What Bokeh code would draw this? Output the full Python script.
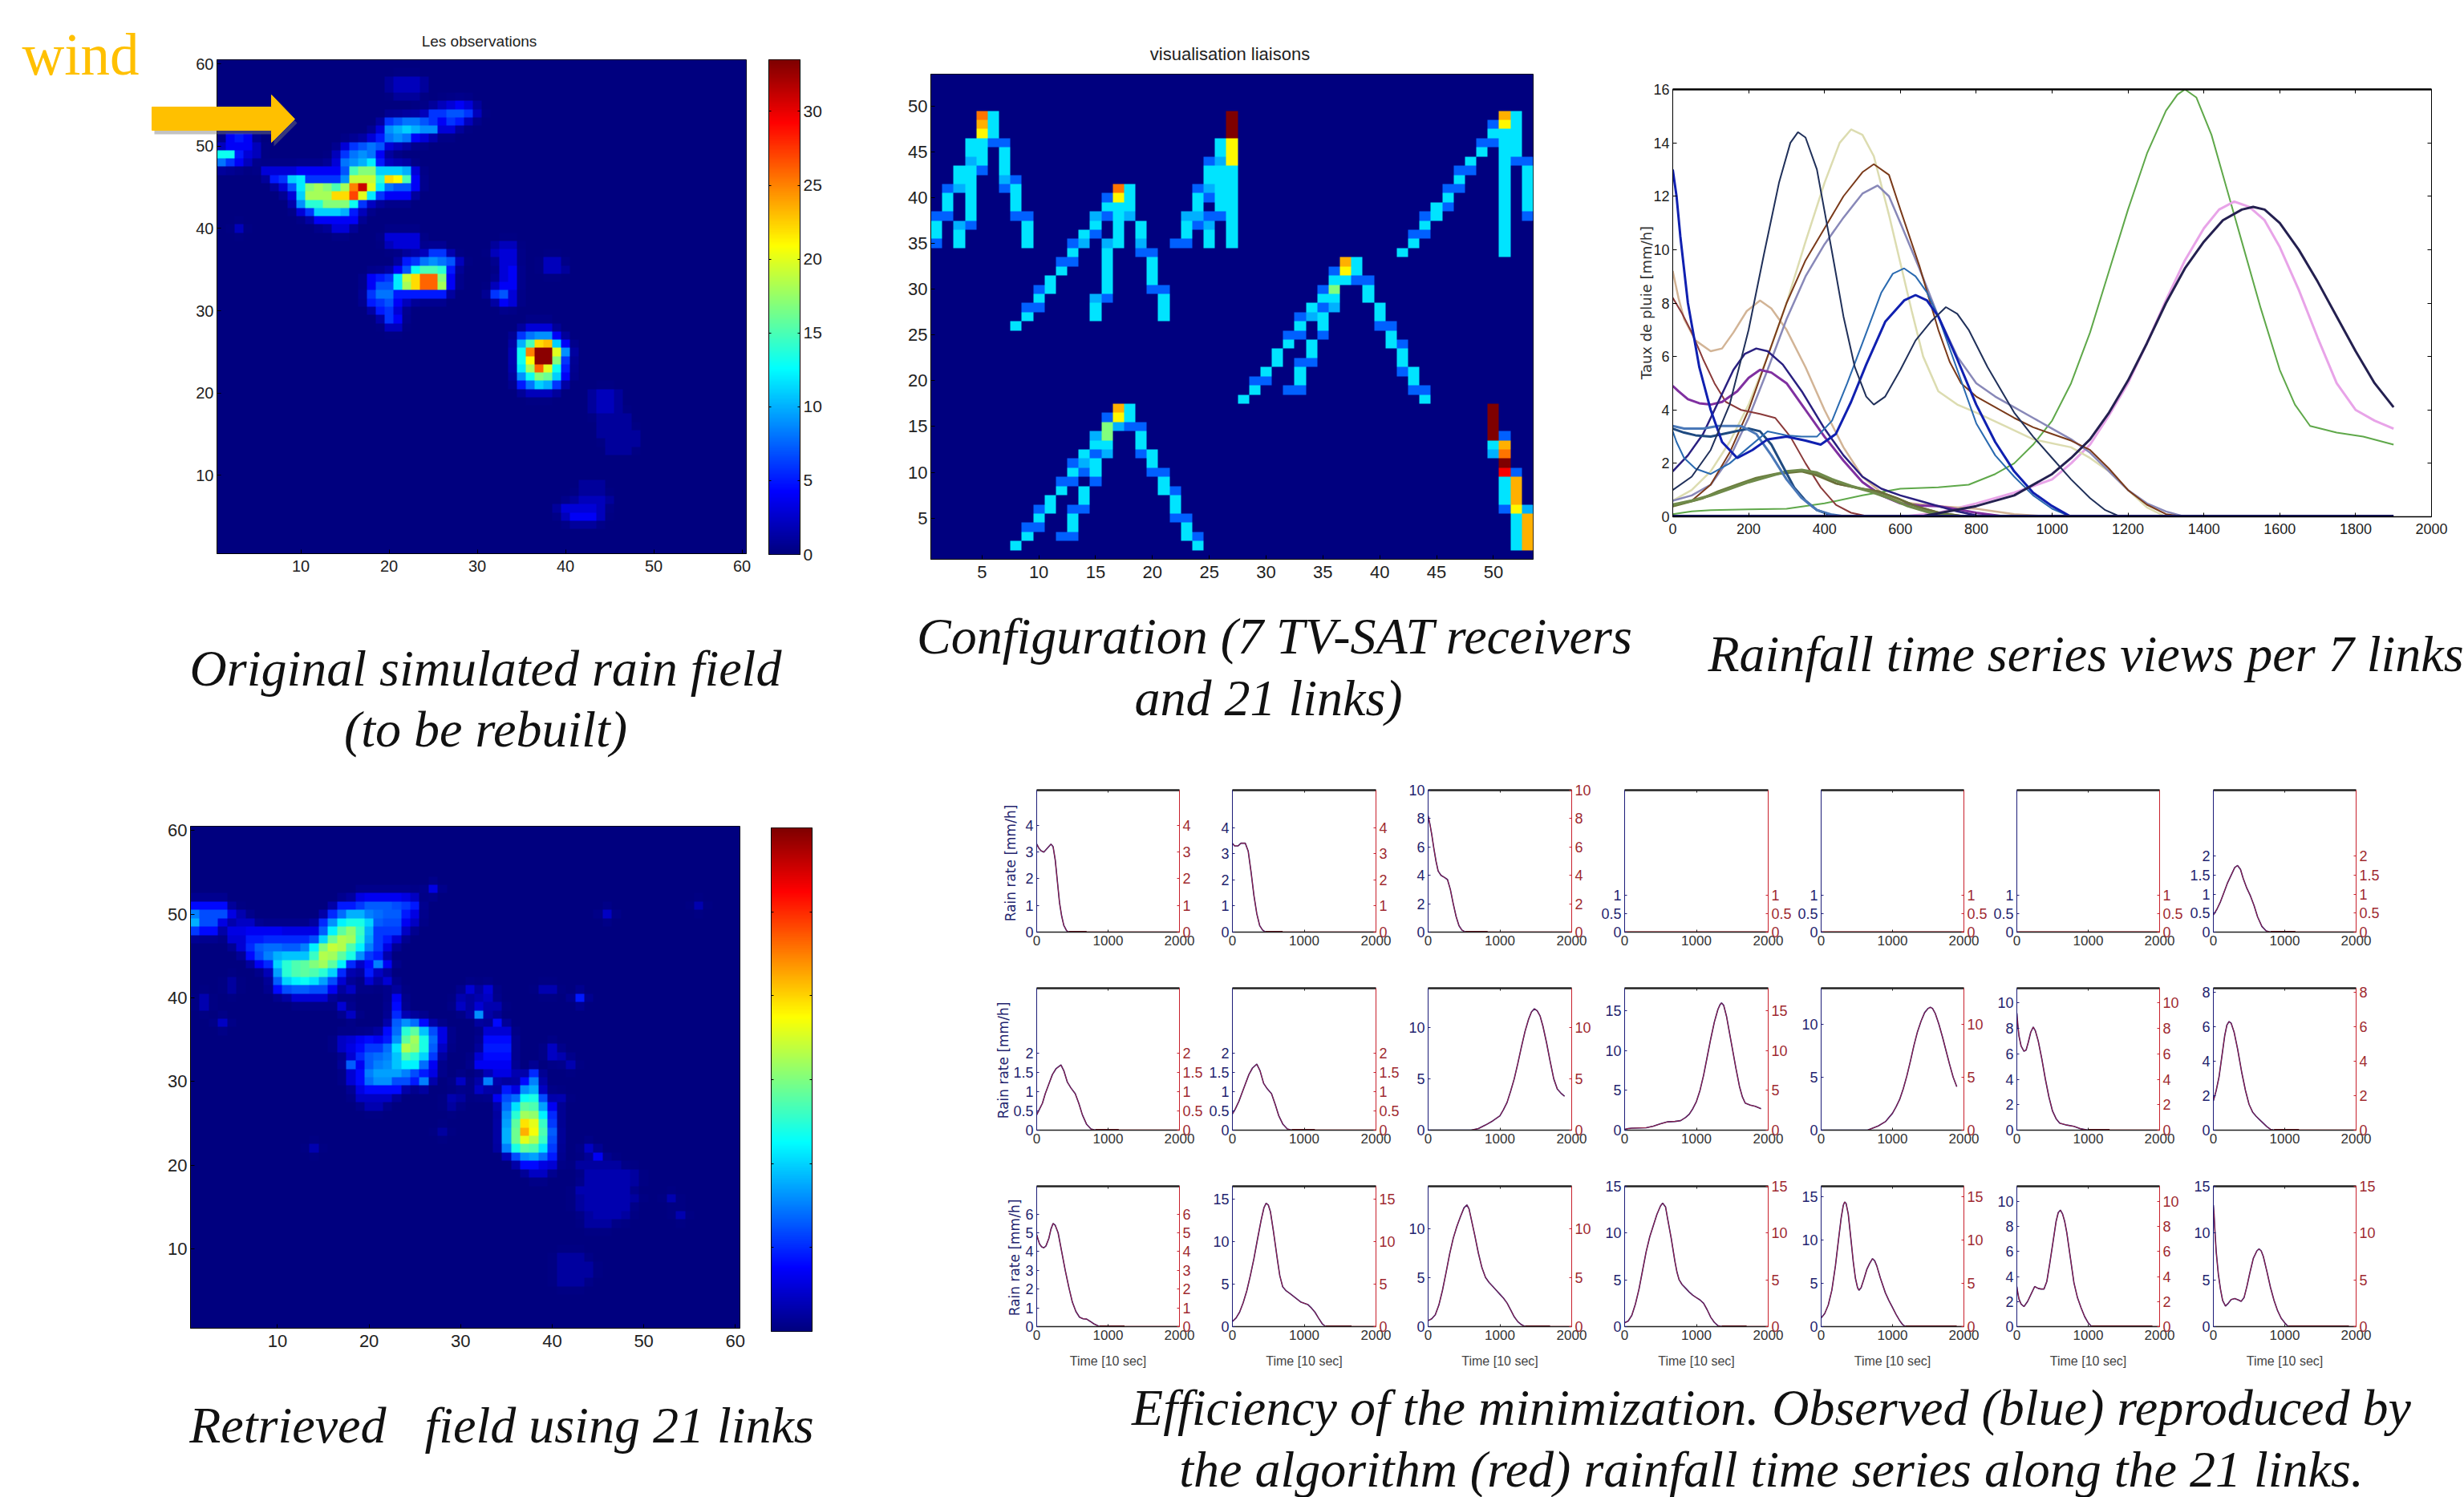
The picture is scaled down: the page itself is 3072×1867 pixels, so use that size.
import numpy as np
from bokeh.embed import file_html
from bokeh.resources import INLINE
from bokeh.plotting import figure
from bokeh.layouts import column
from bokeh.models import Range1d, LinearAxis, FixedTicker, LinearColorMapper, CustomLabelingPolicy
from bokeh.core.properties import value

# ---------- rain field "Les observations": (y, first x, values) ----------
obs_rows = [
 (58,20,[1,2,2,2,1]),(57,20,[1,2,2,2,1]),(56,21,[1,1,1]),
 (55,25,[1,2,3,4,3,1]),(54,23,[1,2,6,6,7,7,6,2]),(53,20,[6,7,8,8,7,6,4,6,5,2]),
 (52,19,[3,9,10,11,10,9,9,3,3]),(51,2,[4,5,4]),(51,18,[3,5,8,9,8,4,3]),
 (50,2,[4,4,4,2]),(50,15,[3,6,7,8,7,3,2]),(49,1,[13,13,5,3,2]),(49,14,[2,6,8,9,8,4,1]),
 (48,1,[8,6,4,2]),(48,14,[3,8,9,10,12,5,2]),
 (47,6,[3,3,3,3,4,4,4,4,4,7,15,17,17,11,11,11,10,3]),
 (46,7,[5,6,11,12,6,6,6,6,9,19,19,19,14,22,21,15,4]),
 (45,8,[3,7,12,17,18,17,15,18,25,31,20,12,8,7,7,4]),
 (44,9,[3,11,18,18,18,22,22,27,20,12,6,4,4,4]),
 (43,10,[9,14,14,17,17,17,13,6,2]),(42,10,[3,6,11,11,11,10,5,2]),
 (41,12,[4,4,4,4,4]),(40,3,[2]),(40,14,[3,3]),
 (39,20,[3,3,3,3]),(38,20,[2,3,3,3]),(38,32,[1,2,2]),
 (37,24,[2,6,6]),(37,32,[2,3,3]),(36,22,[5,6,8,9,8,7,2]),(36,33,[3,3]),(36,38,[2,2]),
 (35,21,[4,7,13,15,15,14,5]),(35,33,[3,4]),(35,38,[2,2,1]),
 (34,18,[4,5,6,12,19,22,26,26,17,4]),(34,33,[3,4]),
 (33,18,[4,7,7,12,18,22,26,26,18,4]),(33,32,[2,4,4]),
 (32,18,[6,8,8,5,5,5,5,5,5]),(32,32,[6,7,3]),(31,18,[5,6,7,4,2]),(31,33,[4,3]),
 (30,19,[5,6,3]),(29,20,[6,4]),(28,20,[2,2]),(28,36,[3,3,3]),
 (27,35,[6,8,9,9,4]),(26,35,[10,15,22,23,11,4]),(25,35,[13,25,33,33,20,9]),
 (24,35,[13,21,33,33,17,6]),(23,35,[12,18,26,20,13,5]),(22,35,[9,13,17,16,11,4]),
 (21,35,[5,8,11,10,6]),(20,36,[2,2,2]),(20,43,[1,2,2,1]),(19,43,[1,2,2,1]),
 (18,43,[1,2,2,1]),(17,44,[1,1,1,1]),(16,44,[1,1,1,1]),(15,44,[1,1,1,1,1]),
 (14,45,[1,1,1,1]),(13,45,[1,1,1]),(9,42,[1,1,1]),(8,42,[1,1,1]),
 (7,41,[1,2,2,2,1]),(6,39,[1,3,3,3,3,2]),(5,40,[2,4,4,4,2]),(4,41,[1,1,1]),
]

# ---------- rain field retrieved: (y, first x, values) ----------
ret_rows = [
 (53,27,[6]),(52,19,[6,7,7,7,7,6,4]),
 (51,1,[8,8,8,8]),(51,17,[9,9,11,13,13,13,12,11,9]),(51,56,[3]),
 (50,1,[15,12,12,12,6,3]),(50,16,[10,14,18,18,15,14,13,13,9,6]),(50,46,[4]),
 (49,1,[18,12,12,6]),(49,6,[4,4]),(49,15,[10,16,22,24,24,20,13,12,12,7,4]),
 (48,1,[11,8,8]),(48,5,[6,6,7,7,7,7,6,6,6,6,13,22,28,31,26,18,11,11,11,4]),
 (47,5,[5,5,9,9,10,10,10,10,10,12,20,29,33,32,25,17,11,9,5]),
 (46,6,[5,10,13,14,14,13,13,15,22,30,34,33,27,22,15,11,6]),
 (45,7,[8,12,15,18,19,19,19,26,33,32,28,24,16,11,9]),
 (44,8,[7,10,20,25,27,28,30,32,28,22,10,4,8,15,7]),
 (43,10,[17,25,27,28,27,25,20,10,3]),(43,20,[9,4]),
 (42,5,[2]),(42,10,[13,20,22,23,21,17,12,5]),(42,20,[5,2,5]),
 (41,5,[2]),(41,10,[8,12,13,13,12,12,7]),(41,18,[4]),(41,23,[2]),(41,31,[5,2,5]),(41,39,[3,3]),
 (40,2,[3]),(40,12,[5,5,5,5]),(40,23,[7]),(40,30,[3,2,3,4]),(40,43,[9]),
 (39,2,[3]),(39,17,[5]),(39,23,[8]),(39,30,[4,2,5,3,3]),
 (38,18,[4]),(38,23,[10]),(38,32,[16]),(37,4,[4]),(37,23,[13,16,14,8]),(37,34,[8]),
 (36,22,[8,14,25,28,19,12,6]),(36,33,[5,5,5]),
 (35,17,[4,5,7,8,7,9,16,28,32,24,14,6]),(35,33,[8,8,8]),
 (34,17,[4,6,8,11,11,14,21,33,31,24,13,4]),(34,33,[9,9,9]),(34,40,[4]),
 (33,18,[5,10,13,14,15,19,27,25,20,11]),(33,32,[5,8,8,8]),(33,40,[4,3]),
 (32,18,[13,7,13,15,16,19,22,22,14,7]),(32,32,[7,7,7,7]),(32,42,[3]),
 (31,18,[5,8,15,17,17,17,15,12,9,6]),(31,34,[6,6,3]),(31,38,[10]),
 (30,18,[5,8,14,16,16,12,12,9,15]),(30,33,[15]),(30,37,[8,15]),(30,30,[4]),
 (29,19,[6,8,8,8,8]),(29,32,[4]),(29,35,[9,6,16,18,4]),
 (28,19,[4,4,4,4]),(28,29,[3,2]),(28,34,[7,12,14,23,24,12]),(28,41,[3]),
 (27,20,[3,3]),(27,29,[2]),(27,35,[14,21,28,27,17,7]),(26,35,[16,25,32,31,22,10]),
 (25,35,[17,28,39,36,26,11]),(24,35,[18,29,42,37,27,13]),(24,28,[2]),
 (23,35,[18,29,36,33,26,12]),(22,14,[3]),(22,35,[15,24,28,27,21,11]),(22,44,[4]),
 (21,36,[12,16,17,14,9]),(21,45,[7]),(20,37,[8,8,6,5]),(20,43,[2,2,2,2,2]),
 (19,38,[4,4]),(19,44,[3,3,3,3,3,2]),(18,44,[3,3,3,3,3,2]),(17,43,[3,3,3,3,3,3]),
 (16,43,[2,3,3,3,3,3,2]),(16,53,[3]),(15,43,[2,3,3,3,3,3]),(14,44,[2,3,3,3,2]),(14,54,[3]),
 (13,44,[2,2,2]),(9,41,[2,2,2]),(8,41,[2,2,2,2]),(7,41,[2,2,2,2]),(6,41,[2,2,2]),
]

# ---------- link configuration: (x, top y, codes going down) ----------
# b blue, t blue-cyan, c cyan, g green, y yellow, a amber, o orange, r red, d dark red
link_runs = [
 (1,38,"bccb"),(2,41,"bccb"),(3,43,"cct"),(3,37,"tcc"),(4,46,"cctccccccb"),(5,49,"oay"),(5,46,"cccb"),
 (6,49,"cccb"),(7,46,"bccctb"),(8,42,"bcccb"),(9,38,"bccc"),
 (8,26,"c"),(9,28,"bc"),(10,30,"bcb"),(11,31,"cc"),(12,33,"bc"),(13,35,"bcb"),(14,36,"ct"),(15,38,"tcb"),
 (15,29,"tcc"),(16,40,"bcb"),(16,35,"tcccc"),(16,30,"c"),(16,29,"b"),(17,41,"oyccccc"),(18,41,"ccct"),
 (19,37,"cctb"),(20,34,"bcccb"),(21,30,"bccc"),
 (22,35,"b"),(23,38,"tccb"),(24,41,"bcctb"),(25,44,"bcctb"),(25,38,"btcc"),(26,46,"cctcccccb"),
 (27,49,"dddyyyccccccccc"),
 (42,34,"c"),(43,36,"bc"),(44,38,"bcb"),(45,39,"cc"),(46,41,"bc"),(46,39,"b"),(47,43,"bcb"),(48,44,"cb"),
 (49,46,"bc"),(50,48,"bcb"),(51,49,"aycccccccccccccc"),(52,49,"cccccb"),(53,44,"bcccccb"),
 (28,18,"c"),(29,20,"bc"),(30,21,"cb"),(31,23,"cc"),(32,25,"bc"),(33,27,"bcb"),(33,22,"bccb"),(32,19,"b"),
 (34,28,"ct"),(34,24,"ccb"),(35,30,"bcbccb"),(36,32,"bcgct"),(37,33,"ayc"),(38,33,"ccb"),(39,31,"bcc"),
 (40,28,"ccb"),(41,26,"bcc"),(42,24,"bccb"),(43,21,"ccb"),(44,19,"bc"),
 (8,2,"c"),(9,4,"bc"),(10,6,"bcb"),(11,7,"cc"),(12,9,"bc"),(13,11,"bcb"),(13,6,"bcc"),(12,3,"b"),(13,3,"b"),
 (14,12,"ctb"),(14,8,"cc"),(14,6,"b"),(15,14,"tcbccb"),(16,16,"bggct"),(17,17,"ayt"),(18,17,"ccb"),
 (19,15,"bccb"),(20,12,"ccb"),(21,10,"bcc"),(22,8,"bccb"),(23,5,"bcc"),(24,3,"bc"),
 (50,17,"ddddct"),(51,14,"baodrcccb"),(52,10,"b"),(52,9,"aaay"),(52,5,"cccc"),(53,6,"t"),(53,5,"aaaa"),
]
link_levels = {"b":0.22,"t":0.30,"c":0.35,"g":0.50,"y":0.63,"a":0.70,"o":0.76,"r":0.88,"d":1.0}

# ---------- rainfall curves (time, rate) ----------
a_x=[0,30,60,100,150,200,230,260,290,320,350,380,420,450]
a_y=[3.3,3.15,3.05,3.0,3.15,3.3,3.2,2.7,1.9,1.1,.6,.25,.05,0]
b_x=[0,30,80,120,180,220,260,300,340,380,420,460]
b_y=[3.4,3.3,3.3,3.4,3.4,3.1,2.3,1.4,.7,.25,.08,0]
c_x=[0,25,50,80,110,140,180,230,270,310,350,390,430,470,520]
c_y=[8.2,7.6,6.9,5.9,5.0,4.3,4.0,3.85,3.7,3.0,2.0,1.1,.45,.15,0]
d_x=[0,50,100,150,200,250,300,340,380,420,470,520,570,620,680,740,800]
d_y=[.45,.6,.8,1.05,1.3,1.5,1.7,1.75,1.65,1.4,1.15,.95,.7,.4,.15,.03,0]
e_x=[0,40,80,120,170,220,270,340,380,430,480,540,590,640,700,760,820]
e_y=[.4,.55,.7,.95,1.2,1.45,1.6,1.7,1.55,1.25,1.1,.95,.7,.4,.15,.03,0]
f_x=[0,40,90,130,180,230,280,340,385,435,485,545,595,645,705,765,825]
f_y=[.42,.55,.75,.95,1.2,1.45,1.62,1.72,1.55,1.22,1.08,.95,.68,.38,.15,.03,0]
g_x=[0,600,700,800,900,1000,1050,1100,1150,1200,1250,1300,1350,1400,1440,1480,1520,1560,1600,1650,1700,1750,1800,1850,1900]
g_y=[0,0,.15,.5,.9,1.4,2.0,2.7,3.8,5.0,6.5,8.1,9.6,10.8,11.5,11.8,11.6,11.1,10.1,8.5,6.7,5.0,4.0,3.6,3.3]
h_x=[0,50,100,200,300,400,500,600,700,780,850,900,950,1000,1050,1100,1150,1200,1250,1300,1330,1350,1380,1420,1460,1500,1550,1600,1640,1680,1750,1820,1900]
h_y=[.1,.2,.25,.28,.3,.5,.8,1.05,1.1,1.2,1.6,2.0,2.7,3.6,5.0,6.9,9.2,11.5,13.6,15.2,15.8,16,15.7,14.3,12.3,10.3,7.8,5.5,4.2,3.4,3.15,3.0,2.7]
i_x=[0,650,800,900,1000,1050,1100,1150,1200,1250,1300,1350,1400,1450,1500,1530,1560,1600,1650,1700,1750,1800,1850,1900]
i_y=[0,0,.4,.8,1.6,2.2,2.9,3.9,5.1,6.5,8.0,9.3,10.3,11.1,11.5,11.6,11.5,11.0,10.0,8.8,7.5,6.2,5.0,4.1]
j_x=[0,15,30,60,100,130,160,195,230,260,300,350,400,450,500,550,600,700,800,900,1000]
j_y=[9.2,8.2,7.4,6.6,6.2,6.3,6.9,7.7,8.1,7.8,7.0,5.6,4.0,2.6,1.5,.9,.55,.4,.3,.1,0]
k_x=[0,40,80,120,160,190,220,250,290,340,400,450,500,550,600,650,700,750,800,850]
k_y=[1.7,2.3,3.1,4.3,5.5,6.1,6.3,6.2,5.7,4.7,3.3,2.3,1.5,1.05,.8,.6,.4,.2,.05,0]
l_x=[0,15,40,70,100,130,170,200,230,260,300,350,400,450,500,550,600,650,700,750,800,880]
l_y=[4.9,4.7,4.4,4.25,4.2,4.3,4.7,5.2,5.5,5.4,5.0,4.0,3.0,2.1,1.3,.8,.5,.42,.4,.28,.15,0]
m_x=[0,50,100,150,200,250,300,350,400,440,470,500,530,570,600,630,660,700,750,800,875,950,1050,1100,1150,1200,1250,1300]
m_y=[.6,1.0,1.7,2.8,4.2,6.0,8.0,10.3,12.5,14.0,14.5,14.3,13.5,11.3,9.5,7.7,6.0,4.7,4.2,3.9,3.4,2.9,2.6,2.2,1.7,1.0,.35,0]
n_x=[0,50,100,150,200,250,300,350,400,450,500,540,570,600,650,700,750,800,850,900,950,1000,1050,1100,1150,1200,1250,1300,1350]
n_y=[.6,.8,1.2,2.2,3.7,5.5,7.4,9.0,10.2,11.2,12.1,12.4,12.0,11.0,9.3,7.5,6.0,5.0,4.5,4.1,3.7,3.3,2.9,2.4,1.7,1.0,.5,.2,0]
o_x=[0,50,100,150,200,250,300,350,400,450,500,530,570,600,650,700,730,760,800,850,900,950,1000,1050,1100,1150,1200,1250,1300,1350]
o_y=[.4,.6,1.2,2.4,4.0,6.0,8.0,9.6,10.8,12.0,12.9,13.2,12.8,11.5,9.4,7.0,5.8,5.0,4.5,4.1,3.7,3.35,3.1,2.85,2.5,1.8,1.0,.45,.1,0]
p_x=[0,50,100,150,200,240,280,310,330,350,380,420,450,480,510,530,560,600,640,680,720,750,780,830,900,950,1000,1050,1100,1140,1180]
p_y=[1.0,1.5,2.5,4.2,7.0,9.8,12.5,14.0,14.4,14.2,13.0,9.9,7.5,5.6,4.5,4.2,4.5,5.5,6.6,7.3,7.85,7.6,7.0,5.6,3.9,3.0,2.2,1.4,.7,.25,0]
q_x=[0,10,30,60,100,150,200,250,300,340,380,420,460,500,550,580,610,640,670,700,750,800,850,900,950,1000,1050]
q_y=[3.2,2.8,2.2,1.8,1.6,2.0,2.6,3.2,3.05,3.0,3.0,3.6,5.0,6.5,8.4,9.1,9.3,9.0,8.4,7.5,5.5,3.5,2.3,1.5,.8,.3,0]
r_x=[0,10,20,40,70,100,130,170,210,250,300,350,390,430,470,510,560,610,640,670,700,750,800,850,900,950,1000,1050]
r_y=[13,12,10.5,8,5.6,4,2.8,2.2,2.5,2.9,3.0,2.85,2.7,3.1,4.3,5.7,7.3,8.1,8.3,8.1,7.5,5.9,4.2,2.8,1.7,.9,.4,0]

curves = {"a":(a_x,a_y),"b":(b_x,b_y),"c":(c_x,c_y),"d":(d_x,d_y),"e":(e_x,e_y),"f":(f_x,f_y),
          "g":(g_x,g_y),"h":(h_x,h_y),"i":(i_x,i_y),"j":(j_x,j_y),"k":(k_x,k_y),"l":(l_x,l_y),
          "m":(m_x,m_y),"n":(n_x,n_y),"o":(o_x,o_y),"p":(p_x,p_y),"q":(q_x,q_y),"r":(r_x,r_y)}
big_colors = {"a":"#1f4a80","b":"#4a78b8","c":"#8a3a3a","d":"#6f8a4a","e":"#6a7a3a","f":"#6b6b3a",
              "g":"#e8a4e8","h":"#5fa84a","i":"#242050","j":"#d2b496","k":"#2a2080","l":"#8030a0",
              "m":"#dcdcb0","n":"#8888b8","o":"#7a3a1a","p":"#20305a","q":"#2a6ab0","r":"#1020b0"}
big_widths = {"a":3,"b":3,"c":2,"d":3.5,"e":3,"f":2,"g":3,"h":2,"i":3,"j":2.5,"k":2.5,"l":3,
              "m":2.5,"n":2.5,"o":2,"p":2,"q":2,"r":3}
big_order = ["h","g","m","j","n","o","c","l","k","e","f","d","a","b","q","r","p","i"]

panel_curves = [["a","b","c",None,None,None,"d"],
                ["e","f","g","h","i","j","k"],
                ["l","m","n","o","p","q","r"]]
panel_ymax = [[5.32,5.43,10,3.88,3.88,3.88,3.73],
              [3.7,3.7,13.8,17.85,13.4,11.15,8.23],
              [7.48,16.5,14.3,15,16.2,11.2,15]]
panel_ticks = [[[0,1,2,3,4],[0,1,2,3,4],[0,2,4,6,8,10],[0,.5,1],[0,.5,1],[0,.5,1],[0,.5,1,1.5,2]],
               [[0,.5,1,1.5,2],[0,.5,1,1.5,2],[0,5,10],[0,5,10,15],[0,5,10],[0,2,4,6,8,10],[0,2,4,6,8]],
               [[0,1,2,3,4,5,6],[0,5,10,15],[0,5,10],[0,5,10,15],[0,5,10,15],[0,2,4,6,8,10],[0,5,10,15]]]
panel_dark_end = [[700,700,830,0,0,0,1150],[1150,1150,470,470,600,1300,1200],[1230,1660,1700,1700,1900,1900,1900]]
time_ticks = [0,1000,2000]

big_x_ticks = [0,200,400,600,800,1000,1200,1400,1600,1800,2000]
big_y_ticks = [0,2,4,6,8,10,12,14,16]
obs_bar_ticks = [0,5,10,15,20,25,30]
ret_bar_ticks = [10,20,30,40,50]

captions = [
 ("wind",100,68,73,"#FFC000","normal"),
 ("Original simulated rain field",605,833,64,"#111111","italic"),
 ("(to be rebuilt)",605,909,64,"#111111","italic"),
 ("Configuration (7 TV-SAT receivers",1589,793,64,"#111111","italic"),
 ("and 21 links)",1581,870,64,"#111111","italic"),
 ("Rainfall time series views per 7 links",2600,815,64,"#111111","italic"),
 ("Retrieved \u00a0 field using 21 links",625,1777,64,"#111111","italic"),
 ("Efficiency of the minimization. Observed (blue) reproduced by",2208,1755,64,"#111111","italic"),
 ("the algorithm (red) rainfall time series along the 21 links.",2208,1832,64,"#111111","italic"),
]

# ---------- helpers ----------
PAGE_W, PAGE_H = 3072, 1867
SANS = "Liberation Sans"

def jet(n=256):
    out = []
    for t in np.linspace(0, 1, n):
        r = np.clip(min(4*t-1.5, -4*t+4.5), 0, 1)
        g = np.clip(min(4*t-0.5, -4*t+3.5), 0, 1)
        b = np.clip(min(4*t+0.5, -4*t+2.5), 0, 1)
        out.append("#%02x%02x%02x" % (int(r*255), int(g*255), int(b*255)))
    return out
JET = jet()

def make_fig(fx0, fy0, fx1, fy1, xr, yr, L=60, R=60, T=40, B=44):
    p = figure(width=int(fx1-fx0)+L+R, height=int(fy1-fy0)+T+B,
               x_range=Range1d(*xr), y_range=Range1d(*yr),
               x_axis_type=None, y_axis_type=None, toolbar_location=None,
               output_backend="svg", min_border_left=L, min_border_right=R,
               min_border_top=T, min_border_bottom=B, frame_align=False,
               border_fill_color=None, background_fill_color=None, outline_line_color=None)
    p.grid.visible = False
    p.styles = {"position":"absolute","left":f"{int(fx0)-L}px","top":f"{int(fy0)-T}px"}
    return p

def axis(ticks, side_color="#000000", label_color="#222222", size=18, labels=True,
         line=1, y_range_name=None, tick_in=5, standoff=4):
    kw = {}
    if y_range_name: kw["y_range_name"] = y_range_name
    ax = LinearAxis(ticker=FixedTicker(ticks=ticks), axis_line_color=side_color, axis_line_width=line,
                    major_tick_line_color=side_color, major_tick_in=tick_in, major_tick_out=0,
                    minor_tick_line_color=None, major_label_text_color=label_color,
                    major_label_text_font=SANS, major_label_text_font_size=f"{size}px",
                    major_label_standoff=standoff, **kw)
    if not labels:
        ax.major_label_policy = CustomLabelingPolicy(
            code="try { for (let i = 0; i < indices.size; i++) indices.unset(i); } catch (e) {} return indices")
    return ax

def halo(g):
    # the reference is a soft JPEG: faint glow round each bright cell
    pad = np.pad(g, 1)
    mean = (pad[:-2,1:-1]+pad[2:,1:-1]+pad[1:-1,:-2]+pad[1:-1,2:])/4
    return np.maximum(g, 0.5*mean)

def grid_from_rows(rows, n):
    g = np.zeros((n, n))
    for y, x0, vals in rows:
        for k, v in enumerate(vals):
            if x0+k <= n:
                g[y-1, x0-1+k] = max(g[y-1, x0-1+k], v)
    return halo(g)

def grid_from_runs(runs, n):
    g = np.zeros((n, n))
    for x, top, codes in runs:
        for k, ch in enumerate(codes):
            g[top-1-k, x-1] = max(g[top-1-k, x-1], link_levels[ch])
    return g

def heat(arr, box, n, vmax, ticks, size):
    p = make_fig(*box, (0.5, n+0.5), (0.5, n+0.5))
    mapper = LinearColorMapper(palette=JET, low=0, high=vmax)
    p.image(image=[arr], x=0.5, y=0.5, dw=n, dh=n, color_mapper=mapper)
    p.outline_line_color = "#000000"
    p.add_layout(axis(ticks, size=size, standoff=8), "below")
    p.add_layout(axis(ticks, size=size), "left")
    return p

def colorbar(box, vmax, ticks, labels):
    p = make_fig(*box, (0, 1), (0, vmax), L=40, R=60)
    mapper = LinearColorMapper(palette=JET, low=0, high=vmax)
    p.image(image=[np.linspace(0, vmax, 256).reshape(256, 1)], x=0, y=0, dw=1, dh=vmax, color_mapper=mapper)
    p.outline_line_color = "#000000"
    p.add_layout(axis(ticks, labels=labels, size=21, tick_in=3), "right")
    p.add_layout(axis(ticks, labels=False, tick_in=3), "left")
    return p

figs = []

figs.append(heat(grid_from_rows(obs_rows, 60), (270,74,930,690), 60, 33.5, [10,20,30,40,50,60], 20))
figs.append(colorbar((958,74,997,691), 33.5, obs_bar_ticks, True))
figs.append(heat(grid_from_runs(link_runs, 53), (1160,92,1911,697), 53, 1.0, [5,10,15,20,25,30,35,40,45,50], 22))
figs.append(heat(grid_from_rows(ret_rows, 60), (237,1030,922,1656), 60, 60, [10,20,30,40,50,60], 22))
figs.append(colorbar((961,1032,1012,1660), 60, ret_bar_ticks, False))

# Panel C
pc = make_fig(2085,111,3031,644,(0,2000),(0,16))
for key in big_order:
    xs, ys = curves[key]
    pc.line(list(xs), list(ys), line_color=big_colors[key], line_width=big_widths[key])
pc.line([0,1900],[0,0],line_color="#14145a",line_width=5)
pc.add_layout(axis(big_x_ticks,size=18,line=1.5,standoff=8),"below")
pc.add_layout(axis(big_y_ticks,size=18),"left")
pc.add_layout(axis(big_x_ticks,labels=False,line=2.5),"above")
pc.add_layout(axis(big_y_ticks,labels=False),"right")
figs.append(pc)

# Small multiples
col_x = [(1292,1470),(1536,1715),(1780,1959),(2025,2204),(2270,2448),(2514,2692),(2759,2937)]
row_y = [(985,1162),(1232,1409),(1479,1654)]
NAVY, RED = "#1c1c78", "#c8202c"
for r, (y0, y1) in enumerate(row_y):
    for c, (x0, x1) in enumerate(col_x):
        ym = panel_ymax[r][c]
        p = make_fig(x0, y0, x1, y1, (0, 2000), (0, ym), L=60, R=60, T=40, B=34)
        p.extra_y_ranges = {"r": Range1d(0, ym)}
        key = panel_curves[r][c]
        dark = panel_dark_end[r][c]
        if key:
            xs, ys = curves[key]
            if dark > xs[-1]:
                p.line([xs[-1], dark], [0, 0], line_color="#6a0c18", line_width=3)
            p.line(xs, ys, line_color=NAVY, line_width=1.6)
            p.line(xs, ys, line_color=RED, line_width=1, line_alpha=0.75)
            if xs[-1] < 1900 and dark < 2000:
                p.line([max(dark, xs[-1]), 2000], [0, 0], line_color=RED, line_width=1.5)
        else:
            p.line([0, 2000], [0, 0], line_color=RED, line_width=2)
        ticks = panel_ticks[r][c]
        p.add_layout(axis(time_ticks, side_color="#222222", label_color="#333333", size=17, line=1.5, tick_in=3), "below")
        p.add_layout(axis(time_ticks, side_color="#222222", labels=False, line=2.5, tick_in=3), "above")
        p.add_layout(axis(ticks, side_color=NAVY, label_color="#24246e", size=18, tick_in=3), "left")
        p.add_layout(axis(ticks, side_color=RED, label_color="#a02a30", size=18, y_range_name="r", tick_in=3), "right")
        figs.append(p)

# Overlay with all free text and the wind arrow: its own range is page pixels
OV_X0, OV_Y0 = 16, 16
ov = figure(width=PAGE_W-OV_X0, height=PAGE_H-OV_Y0, x_range=Range1d(OV_X0,PAGE_W), y_range=Range1d(PAGE_H,OV_Y0),
            x_axis_type=None, y_axis_type=None, toolbar_location=None, output_backend="svg",
            min_border_left=0, min_border_right=0, min_border_top=0, min_border_bottom=0, frame_align=False,
            border_fill_color=None, background_fill_color=None, outline_line_color=None)
ov.grid.visible = False
ov.styles = {"position":"absolute","left":f"{OV_X0}px","top":f"{OV_Y0}px"}

arrow_x = [189,338,338,367,338,338,189]
arrow_y = [133,133,118,148,177,162,162]
ov.patch([v+3 for v in arrow_x],[v+5 for v in arrow_y],fill_color="#777777",fill_alpha=0.45,line_color=None)
ov.patch(arrow_x,arrow_y,fill_color="#FFC000",line_color="#FFC000")

def put(text, x, y, size, color="#111111", font="Liberation Serif", style="normal", angle=0):
    ov.text([x],[y],text=[text],text_font=value(font),text_font_style=style,
            text_font_size=f"{size}px",text_color=color,text_align="center",
            text_baseline="middle",angle=angle)

for t,x,y,s,col,st in captions:
    put(t,x,y,s,col,style=st)

put("Les observations",597,51,19,"#222222",SANS)
put("visualisation liaisons",1533,67,22,"#222222",SANS)
put("Taux de pluie [mm/h]",2052,377,18,"#333333","DejaVu Sans",angle=np.pi/2)
for x,y in [(1259,1076),(1250,1322),(1264,1568)]:
    put("Rain rate [mm/h]",x,y,17,"#24246e","DejaVu Sans",angle=np.pi/2)
for x0,x1 in col_x:
    put("Time [10 sec]",(x0+x1)/2,1697,16,"#444444",SANS)
figs.append(ov)

root = column(*figs, width=PAGE_W-16, height=PAGE_H-16)
open("out.html","w").write(file_html(root, INLINE))
